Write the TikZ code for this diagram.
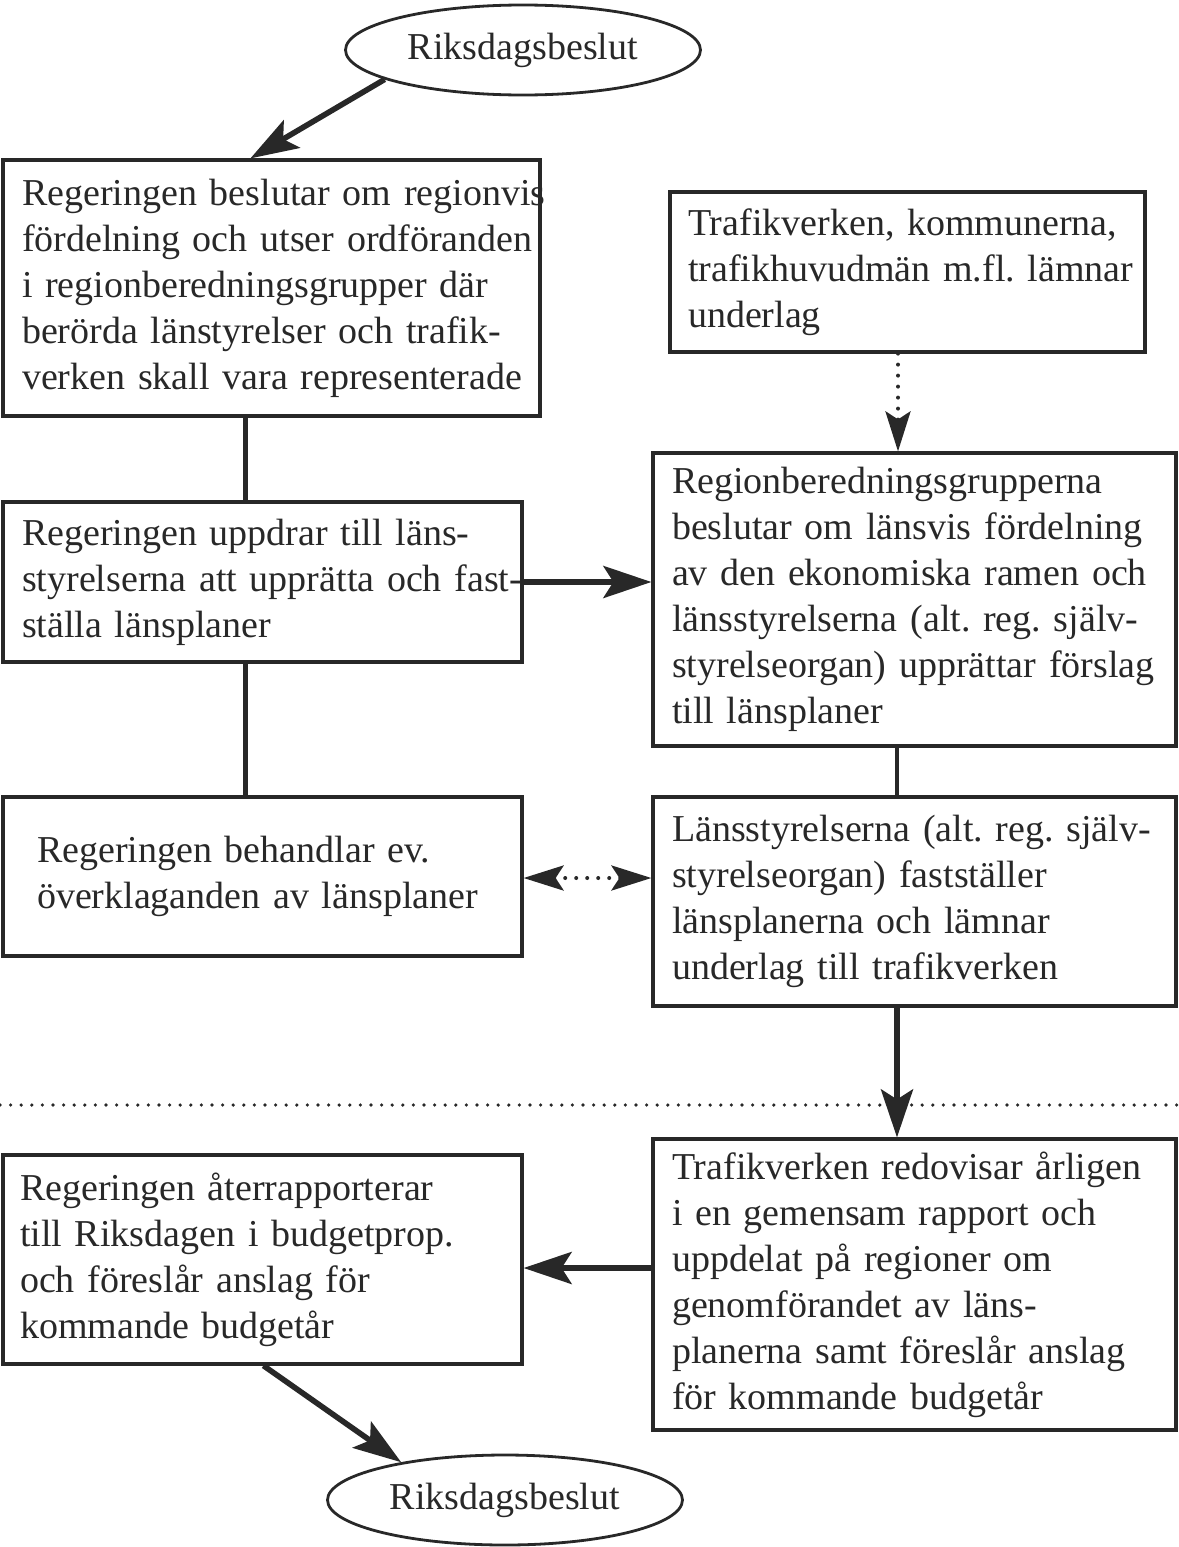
\documentclass[tikz,border=0pt]{standalone}
\usepackage{fontspec}
\setmainfont{Liberation Serif}
\usetikzlibrary{shapes.geometric,arrows.meta,calc}
\definecolor{ink}{RGB}{40,40,40}
\newcommand\oneline[1]{\mbox{#1}}
\frenchspacing
\tikzset{
  box/.style={draw=ink, text=ink, line width=1.6pt, rectangle, align=left, inner ysep=0pt,
    font=\fontsize{19}{23}\selectfont},
  oval/.style={draw=ink, text=ink, line width=1.4pt, ellipse, inner sep=0pt,
    minimum width=177.5pt, minimum height=45pt, font=\fontsize{19}{23}\selectfont},
  bigarrow/.style={draw=ink, line width=2.8pt, -{Stealth[length=24pt,width=16pt,inset=5pt]}},
  plainline/.style={draw=ink, line width=2.4pt},
  dotarrow/.style={draw=ink, line width=2pt, dash pattern=on 0pt off 5.5pt, line cap=round,
    -{Stealth[length=20pt,width=12.5pt,inset=4pt,line cap=butt,sep=0pt]}},
  dotboth/.style={draw=ink, line width=2pt, dash pattern=on 0pt off 5.5pt, line cap=round,
    {Stealth[length=20pt,width=12.5pt,inset=4pt,line cap=butt]}-{Stealth[length=20pt,width=12.5pt,inset=4pt,line cap=butt]}},
  sepline/.style={draw=ink, line width=1.8pt, dash pattern=on 0pt off 5.3pt, line cap=round}
}
\begin{document}
\begin{tikzpicture}[x=0.5pt,y=-0.5pt]
\useasboundingbox (0,0) rectangle (1178,1547);
% ovals
\node[oval] (top) at (523,50) {Riksdagsbeslut};
\node[oval] (bot) at (505,1500) {Riksdagsbeslut};
% boxes
\node[box, minimum width=268.5pt, minimum height=128pt, inner xsep=9.5pt, text width=249.5pt] (A) at (271.5,288)
 {\oneline{Regeringen beslutar om regionvis}\\ \oneline{fördelning och utser ordföranden}\\ \oneline{i regionberedningsgrupper där}\\ \oneline{berörda länstyrelser och trafik-}\\ \oneline{verken skall vara representerade}};
\node[box, minimum width=237.5pt, minimum height=80pt, inner xsep=9pt, text width=219.5pt] (B) at (907.5,272)
 {\oneline{Trafikverken, kommunerna,}\\ \oneline{trafikhuvudmän m.fl. lämnar}\\ \oneline{underlag}};
\node[box, minimum width=259.5pt, minimum height=80pt, inner xsep=9.5pt, text width=240.5pt] (C) at (262.5,582)
 {\oneline{Regeringen uppdrar till läns-}\\ \oneline{styrelserna att upprätta och fast-}\\ \oneline{ställa länsplaner}};
\node[box, minimum width=261.5pt, minimum height=146.5pt, inner xsep=9.5pt, text width=242.5pt] (D) at (914.5,599.5)
 {\oneline{Regionberedningsgrupperna}\\ \oneline{beslutar om länsvis fördelning}\\ \oneline{av den ekonomiska ramen och}\\ \oneline{länsstyrelserna (alt. reg. själv-}\\ \oneline{styrelseorgan) upprättar förslag}\\ \oneline{till länsplaner}};
\node[box, minimum width=259.5pt, minimum height=79.5pt, inner xsep=17pt, text width=225.5pt] (E) at (262.5,876.5)
 {\oneline{Regeringen behandlar ev.}\\ \oneline{överklaganden av länsplaner}};
\node[box, minimum width=261.5pt, minimum height=104.5pt, inner xsep=9.5pt, text width=242.5pt] (F) at (914.5,901.5)
 {\oneline{Länsstyrelserna (alt. reg. själv-}\\ \oneline{styrelseorgan) fastställer}\\ \oneline{länsplanerna och lämnar}\\ \oneline{underlag till trafikverken}};
\node[box, minimum width=259.5pt, minimum height=104.5pt, inner xsep=8.5pt, text width=242.5pt] (G) at (262.5,1259.5)
 {\oneline{Regeringen återrapporterar}\\ \oneline{till Riksdagen i budgetprop.}\\ \oneline{och föreslår anslag för}\\ \oneline{kommande budgetår}};
\node[box, minimum width=261.5pt, minimum height=145.5pt, inner xsep=9.5pt, text width=242.5pt] (H) at (914.5,1284.5)
 {\oneline{Trafikverken redovisar årligen}\\ \oneline{i en gemensam rapport och}\\ \oneline{uppdelat på regioner om}\\ \oneline{genomförandet av läns-}\\ \oneline{planerna samt föreslår anslag}\\ \oneline{för kommande budgetår}};
% separator
\coordinate (sl) at (0,1105);
\coordinate (sr) at (1178,1105);
\draw[sepline] (sl) -- (sr);
% connectors
\draw[bigarrow] (top.192) -- ($(A.north west)+(249,0)$);
\draw[plainline] ($(A.south west)+(244,0)$) -- ($(C.north west)+(244,0)$);
\draw[plainline] ($(C.south west)+(244,0)$) -- ($(E.north west)+(244,0)$);
\draw[bigarrow] (C.east) -- (C.east -| D.west);
\draw[dotarrow] ($(B.south)+(-9.5,0)$) -- ($(B.south |- D.north)+(-9.5,0)$);
\draw[plainline] ($(D.south)+(-17.5,0)$) -- ($(D.south |- F.north)+(-17.5,0)$);
\draw[dotboth] ($(E.east)+(0,1.5)$) -- ($(E.east -| F.west)+(0,1.5)$);
\draw[bigarrow] ($(F.south)+(-17.5,0)$) -- ($(F.south |- H.north)+(-17.5,0)$);
\draw[bigarrow] ($(H.west)+(0,-16.5)$) -- ($(H.west -| G.east)+(0,-16.5)$);
\draw[bigarrow] ($(G.south west)+(262,0)$) -- (bot.160);
\end{tikzpicture}
\end{document}
